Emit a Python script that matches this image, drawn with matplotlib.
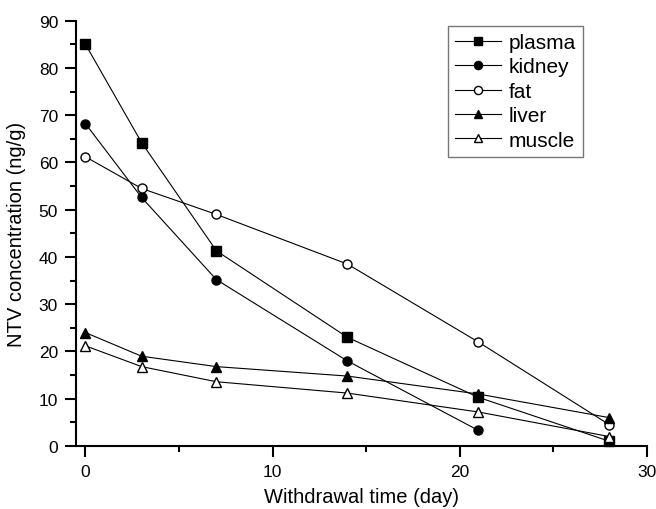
import numpy as np
import matplotlib
matplotlib.use('Agg')
import matplotlib.pyplot as plt
from matplotlib.ticker import MultipleLocator

plt.rcParams['font.family'] = ['Liberation Sans', 'DejaVu Sans']

# withdrawal days
days = [0, 3, 7, 14, 21, 28]
days_kidney = [0, 3, 7, 14, 21]

plasma = [85.0, 64.2, 41.3, 23.0, 10.3, 1.0]
kidney = [68.2, 52.6, 35.2, 18.0, 3.3]
fat = [61.2, 54.5, 49.0, 38.5, 22.0, 4.5]
liver = [24.0, 19.0, 16.8, 14.8, 11.0, 6.0]
muscle = [21.2, 16.8, 13.6, 11.2, 7.2, 2.0]

fig = plt.figure(figsize=(6.56, 5.10), dpi=100)
ax = fig.add_axes([0.116, 0.1235, 0.870, 0.834])

ms = 6.5
lw = 0.8
ax.plot(days, plasma, 'k-s', ms=ms, lw=lw, label='plasma', clip_on=False)
ax.plot(days_kidney, kidney, 'k-o', ms=ms, lw=lw, label='kidney', clip_on=False)
ax.plot(days, fat, 'k-o', ms=ms, lw=lw, mfc='white', label='fat', clip_on=False)
ax.plot(days, liver, 'k-^', ms=ms+0.5, lw=lw, label='liver', clip_on=False)
ax.plot(days, muscle, 'k-^', ms=ms+0.5, lw=lw, mfc='white', label='muscle', clip_on=False)

ax.set_xlim(-0.5, 30)
ax.set_ylim(0, 90)
ax.xaxis.set_major_locator(MultipleLocator(10))
ax.xaxis.set_minor_locator(MultipleLocator(5))
ax.yaxis.set_major_locator(MultipleLocator(10))
ax.yaxis.set_minor_locator(MultipleLocator(5))

ax.spines['top'].set_visible(False)
ax.spines['right'].set_visible(False)
ax.spines['left'].set_linewidth(1.5)
ax.spines['bottom'].set_linewidth(1.5)
ax.tick_params(which='major', direction='out', length=8, width=1.5, labelsize=12.5, pad=5)
ax.tick_params(which='minor', direction='out', length=4, width=1.5)

ax.set_xlabel('Withdrawal time (day)', fontsize=14.5, labelpad=6)
ax.set_ylabel('NTV concentration (ng/g)', fontsize=14.5, labelpad=9)

leg = ax.legend(loc='upper right', bbox_to_anchor=(0.888, 0.988), fontsize=15,
                frameon=True, fancybox=False, edgecolor='#555555',
                handlelength=2.2, handletextpad=0.35, labelspacing=0.26,
                borderpad=0.35, borderaxespad=0, markerscale=0.9)
leg.get_frame().set_linewidth(1.0)

plt.savefig('out.png', dpi=100)
